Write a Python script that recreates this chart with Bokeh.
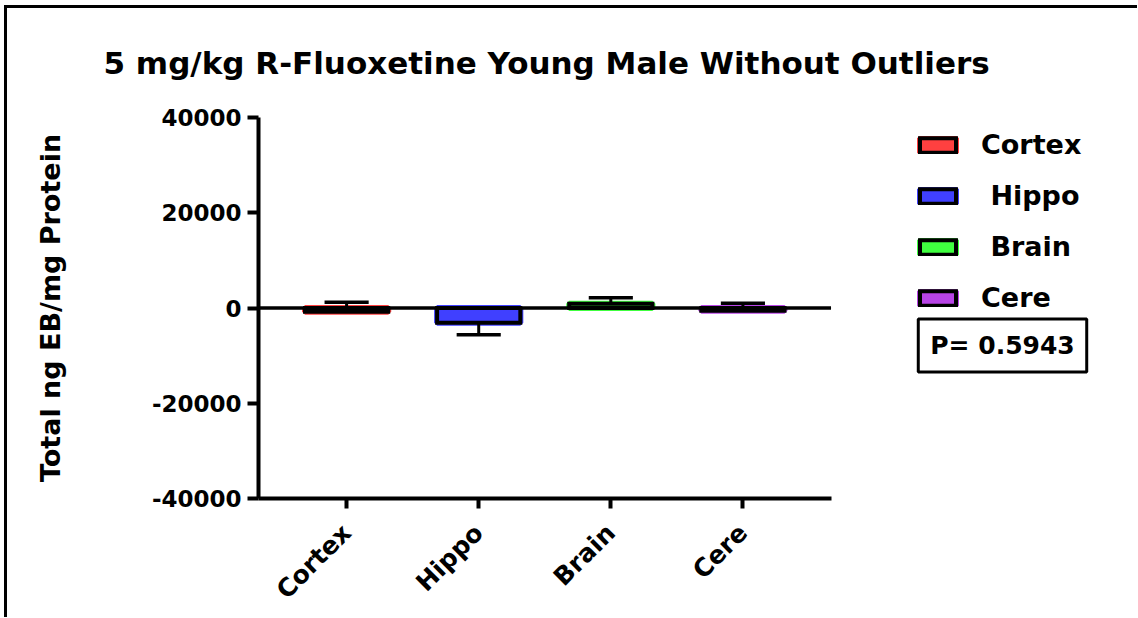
import math
from bokeh.plotting import figure
from bokeh.layouts import row
from bokeh.models import (ColumnDataSource, FixedTicker, Legend, LegendItem,
                          Label, Range1d)
from bokeh.embed import file_html
from bokeh.resources import INLINE

# ---- data ----
categories = ["Cortex", "Hippo", "Brain", "Cere"]
legend_labels = ["Cortex", " Hippo", " Brain", "Cere"]
means = [-800, -3100, 900, -600]          # bar heights
err_tips = [1200, -5600, 2150, 1000]      # end of each error bar
colors = ["#FF4040", "#4040FF", "#40FF40", "#B844E6"]
y_ticks = [-40000, -20000, 0, 20000, 40000]
y_tick_labels = ["-40000", "-20000", "0", "20000", "40000"]
title_text = "5 mg/kg R-Fluoxetine Young Male Without Outliers"
y_label = "Total ng EB/mg Protein"
p_text = "P= 0.5943"

FONT = "DejaVu Sans"
BAR_W = 0.63
CAP_HALF = 0.167
X_START = 0.333
X_AXIS_END = len(categories) + 0.667   # where the drawn x axis stops
X_FRAME_END = 6.987                    # frame also holds the legend area

xs = list(range(1, len(categories) + 1))

p = figure(width=1130, height=609, output_backend="svg", toolbar_location=None,
           x_range=Range1d(X_START, X_FRAME_END), y_range=Range1d(-40000, 40000),
           min_border_left=251, min_border_right=0,
           min_border_top=109, min_border_bottom=119)
p.grid.visible = False
p.outline_line_color = None
p.background_fill_color = "white"
p.border_fill_color = "white"

# ---- bars ----
items = []
for x, m, c, lab in zip(xs, means, colors, legend_labels):
    src = ColumnDataSource(dict(x=[x], top=[m]))
    r1 = p.vbar(x="x", top="top", bottom=0, width=BAR_W, source=src,
                fill_color=c, line_color=c, line_width=6)
    r2 = p.vbar(x="x", top="top", bottom=0, width=BAR_W, source=src,
                fill_color=c, line_color="black", line_width=4, line_join="miter")
    items.append(LegendItem(label=lab, renderers=[r1, r2]))

# ---- error bars ----
err = ColumnDataSource(dict(
    x=xs, m=means, tip=err_tips,
    cx0=[x - CAP_HALF for x in xs], cx1=[x + CAP_HALF for x in xs]))
p.segment(x0="x", y0="m", x1="x", y1="tip", source=err, line_color="black", line_width=3)
p.segment(x0="cx0", y0="tip", x1="cx1", y1="tip", source=err, line_color="black", line_width=3.5)

# ---- zero line (spans the drawn x axis only) ----
p.segment(x0=[X_START], y0=[0], x1=[X_AXIS_END], y1=[0], line_color="black", line_width=3.5)

# ---- axes ----
for ax in (p.xaxis[0], p.yaxis[0]):
    ax.axis_line_width = 4
    ax.axis_line_color = "black"
    ax.major_tick_line_width = 4
    ax.major_tick_line_color = "black"
    ax.major_tick_in = 0
    ax.minor_tick_line_color = None
    ax.major_label_text_font = FONT
    ax.major_label_text_font_style = "bold"
    ax.major_label_text_color = "black"

yax = p.yaxis[0]
yax.ticker = FixedTicker(ticks=y_ticks, minor_ticks=[])
yax.major_label_overrides = {t: s for t, s in zip(y_ticks, y_tick_labels)}
yax.major_tick_out = 11
yax.major_label_standoff = 6
yax.major_label_text_font_size = "23px"
yax.axis_label = y_label
yax.axis_label_text_font = FONT
yax.axis_label_text_font_size = "27px"
yax.axis_label_text_font_style = "bold"
yax.axis_label_text_color = "black"
yax.axis_label_standoff = 83

xax = p.xaxis[0]
xax.bounds = (X_START, X_AXIS_END)
xax.ticker = FixedTicker(ticks=xs, minor_ticks=[])
xax.major_label_overrides = {x: c for x, c in zip(xs, categories)}
xax.major_tick_out = 10
xax.major_label_standoff = 20
xax.major_label_text_font_size = "25px"
xax.major_label_orientation = math.pi / 4

# ---- title (centred over the drawn plot area) ----
p.title.text = title_text
p.title.text_font = FONT
p.title.text_font_size = "31px"
p.title.text_font_style = "bold"
p.title.text_color = "black"
p.title.align = "left"
p.title.offset = 103 - 258
p.title.vertical_align = "top"
p.title.standoff = 70

# ---- legend ----
legend = Legend(items=items, location=(657, 185), padding=0, margin=0,
                border_line_color=None, background_fill_alpha=0,
                glyph_width=45, glyph_height=18, label_standoff=21, spacing=20,
                label_text_font=FONT, label_text_font_size="27px",
                label_text_font_style="bold", label_text_color="black")
p.add_layout(legend, "center")

# ---- P value box ----
p.add_layout(Label(x=744, y=153, x_units="screen", y_units="screen", text=p_text,
                   anchor="center", text_align="center", text_baseline="middle",
                   text_font=FONT, text_font_size="25px", text_font_style="bold",
                   text_color="black", border_line_color="black", border_line_width=3,
                   background_fill_color="white", padding=12))

layout = row(p)
layout.styles = {"border-top": "3px solid black", "border-left": "3px solid black",
                 "margin-left": "4px", "margin-top": "5px"}

open("out.html", "w").write(file_html(layout, INLINE))
